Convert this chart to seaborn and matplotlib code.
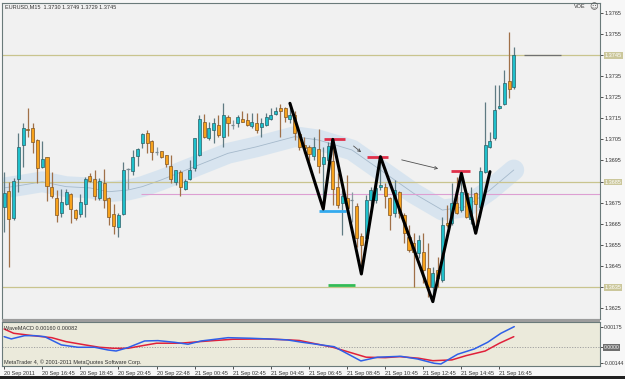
import matplotlib
matplotlib.use("Agg")
import matplotlib.pyplot as plt
from matplotlib.patches import Rectangle
import numpy as np
import pandas as pd
import seaborn as sns

# ---------------- data (EURUSD M15, bar index 0 = 20 Sep 2011 14:45) ----------------
opens = [1.36731, 1.36805, 1.36679, 1.36862, 1.37023, 1.37097, 1.37103, 1.37047, 1.36921, 1.36965,
         1.36823, 1.36774, 1.36703, 1.36742, 1.36791, 1.36715, 1.36695, 1.36742, 1.36876, 1.36862,
         1.36774, 1.36842, 1.36774, 1.36695, 1.36633, 1.36695, 1.36911, 1.36902, 1.36973, 1.37034,
         1.37080, 1.37044, 1.36989, 1.36995, 1.36976, 1.36924, 1.36849, 1.36894, 1.36813, 1.36861,
         1.36913, 1.36976, 1.37134, 1.37055, 1.37095, 1.37118, 1.37063, 1.37155, 1.37120, 1.37126,
         1.37145, 1.37142, 1.37113, 1.37129, 1.37107, 1.37118, 1.37145, 1.37170, 1.37197, 1.37197,
         1.37145, 1.37166, 1.37076, 1.37023, 1.37013, 1.36971, 1.37003, 1.36933, 1.36952, 1.36949,
         1.36823, 1.36750, 1.36771, 1.36765, 1.36734, 1.36592, 1.36581, 1.36763, 1.36763, 1.36824,
         1.36826, 1.36771, 1.36700, 1.36802, 1.36692, 1.36589, 1.36557, 1.36510, 1.36515, 1.36439,
         1.36352, 1.36431, 1.36384, 1.36652, 1.36652, 1.36750, 1.36715, 1.36794, 1.36671, 1.36794,
         1.36731, 1.36897, 1.37013, 1.37055, 1.37197, 1.37218, 1.37327, 1.37300]
highs = [1.36897, 1.36849, 1.36866, 1.37079, 1.37126, 1.37197, 1.37126, 1.37050, 1.37044, 1.36968,
         1.36897, 1.36810, 1.36813, 1.36813, 1.36794, 1.36719, 1.36791, 1.36870, 1.36889, 1.36905,
         1.36868, 1.36910, 1.36777, 1.36742, 1.36700, 1.36944, 1.36916, 1.37000, 1.37008, 1.37082,
         1.37095, 1.37047, 1.37015, 1.36997, 1.36978, 1.36976, 1.36907, 1.36905, 1.36861, 1.36952,
         1.37058, 1.37166, 1.37170, 1.37134, 1.37150, 1.37166, 1.37224, 1.37166, 1.37142, 1.37166,
         1.37186, 1.37175, 1.37174, 1.37174, 1.37150, 1.37177, 1.37197, 1.37205, 1.37218, 1.37205,
         1.37221, 1.37186, 1.37079, 1.37063, 1.37023, 1.37063, 1.37098, 1.37015, 1.37038, 1.37050,
         1.36889, 1.36810, 1.36881, 1.36802, 1.36747, 1.36605, 1.36786, 1.36826, 1.36834, 1.36968,
         1.36842, 1.36778, 1.36858, 1.36805, 1.36700, 1.36644, 1.36605, 1.36597, 1.36605, 1.36557,
         1.36447, 1.36494, 1.36684, 1.36739, 1.36842, 1.36873, 1.36889, 1.36797, 1.36826, 1.36802,
         1.36921, 1.37229, 1.37086, 1.37308, 1.37308, 1.37379, 1.37560, 1.37490]
lows = [1.36612, 1.36447, 1.36668, 1.36802, 1.36921, 1.37063, 1.36984, 1.36842, 1.36913, 1.36759,
        1.36771, 1.36660, 1.36684, 1.36739, 1.36652, 1.36668, 1.36684, 1.36681, 1.36849, 1.36763,
        1.36763, 1.36723, 1.36644, 1.36602, 1.36589, 1.36692, 1.36813, 1.36881, 1.36924, 1.37008,
        1.36987, 1.36952, 1.36976, 1.36963, 1.36921, 1.36842, 1.36834, 1.36782, 1.36810, 1.36858,
        1.36902, 1.36971, 1.37055, 1.37047, 1.37034, 1.37063, 1.37013, 1.37066, 1.37098, 1.37107,
        1.37131, 1.37113, 1.37103, 1.37082, 1.37063, 1.37113, 1.37142, 1.37166, 1.37063, 1.37134,
        1.37126, 1.37047, 1.37000, 1.36984, 1.36949, 1.36952, 1.36892, 1.36720, 1.36924, 1.36739,
        1.36723, 1.36597, 1.36715, 1.36660, 1.36541, 1.36412, 1.36573, 1.36739, 1.36748, 1.36810,
        1.36723, 1.36621, 1.36684, 1.36676, 1.36560, 1.36516, 1.36352, 1.36486, 1.36368, 1.36304,
        1.36281, 1.36352, 1.36375, 1.36636, 1.36644, 1.36698, 1.36707, 1.36676, 1.36649, 1.36605,
        1.36684, 1.36889, 1.37008, 1.37047, 1.37193, 1.37213, 1.37245, 1.37290]
closes = [1.36794, 1.36671, 1.36853, 1.37013, 1.37103, 1.37093, 1.37036, 1.36913, 1.36956, 1.36830,
          1.36782, 1.36692, 1.36752, 1.36802, 1.36721, 1.36679, 1.36752, 1.36862, 1.36853, 1.36783,
          1.36853, 1.36763, 1.36681, 1.36641, 1.36692, 1.36905, 1.36914, 1.36965, 1.37003, 1.37076,
          1.37034, 1.36992, 1.36986, 1.36965, 1.36933, 1.36861, 1.36905, 1.36823, 1.36854, 1.36905,
          1.37055, 1.37145, 1.37063, 1.37103, 1.37126, 1.37071, 1.37166, 1.37126, 1.37123, 1.37155,
          1.37134, 1.37118, 1.37134, 1.37095, 1.37129, 1.37155, 1.37166, 1.37186, 1.37186, 1.37155,
          1.37166, 1.37082, 1.37013, 1.37008, 1.36981, 1.37013, 1.36924, 1.36965, 1.37019, 1.36813,
          1.36739, 1.36782, 1.36723, 1.36762, 1.36581, 1.36549, 1.36763, 1.36810, 1.36818, 1.36834,
          1.36782, 1.36692, 1.36810, 1.36700, 1.36608, 1.36526, 1.36518, 1.36573, 1.36431, 1.36352,
          1.36415, 1.36392, 1.36644, 1.36644, 1.36750, 1.36700, 1.36802, 1.36684, 1.36778, 1.36742,
          1.36902, 1.37023, 1.37044, 1.37189, 1.37208, 1.37316, 1.37289, 1.37450]

# smoothed band indicator (centre values)
band_bars = [0, 4, 8, 13, 18, 22, 26, 29, 33, 40, 47, 53, 61, 66, 73, 79, 86, 92, 97, 102, 107]
band_vals = [1.36820, 1.36834, 1.36849, 1.36826, 1.36820, 1.36802, 1.36810, 1.36826, 1.36858, 1.36921,
             1.36984, 1.37015, 1.37063, 1.37047, 1.37000, 1.36905, 1.36794, 1.36715, 1.36731, 1.36810,
             1.36905]

# zigzag wave
zz_bars = [60, 67, 69, 75, 79, 90, 96, 99, 102]
zz_prices = [1.37221, 1.36720, 1.37050, 1.36412, 1.36968, 1.36281, 1.36889, 1.36605, 1.36897]

# level marks (start bar, end bar, price, colour)
seg_start = [67.1, 76.2, 93.8, 66.2, 68.0]
seg_end = [71.5, 80.6, 97.8, 71.8, 73.6]
seg_price = [1.37050, 1.36968, 1.36902, 1.36711, 1.36360]
seg_color = ['#e0304a', '#e0304a', '#e0304a', '#33aaee', '#33bb55']

# arrows (from bar, from price, to bar, to price)
arrows = [(72.9, 1.37027, 75.4, 1.36981), (82.9, 1.36956, 91.7, 1.36908)]

# horizontal lines
olive_levels = [1.3745, 1.3685, 1.3635]
pink_level = 1.36791
pink_start = 28.8

# WaveMACD
macd_bars_red = [0, 2, 6, 10, 13, 17, 20, 23, 26, 29, 32, 37, 41, 48, 55, 60, 62, 69, 76, 80, 83, 87,
                 90, 94, 97, 101, 104, 107]
macd_red = [0.00157, 0.00119, 0.00098, 0.00080, 0.00045, 0.00016, -0.00005, -0.00014, -0.00014, 0.00009,
            0.00031, 0.00031, 0.00045, 0.00066, 0.00069, 0.00060, 0.00055, -0.00005, -0.00093, -0.00097,
            -0.00088, -0.00102, -0.00124, -0.00117, -0.00079, -0.00038, 0.00031, 0.00089]
macd_bars_blue = [0, 1.5, 4.3, 6.4, 8.5, 12, 15.5, 19, 21.8, 23.5, 26, 29.5, 32.3, 35.8, 38.6, 41.4, 44.9,
                  47, 51.8, 55.3, 59.5, 62.3, 69.3, 74.9, 78.4, 83.3, 86.8, 90.3, 91.7, 95.2, 98.7,
                  101.5, 104.3, 107.1]
macd_blue = [0.00089, 0.00069, 0.00098, 0.00098, 0.00089, 0.00016, -0.00005, -0.00005, -0.00029, -0.00038,
             -0.00008, 0.00051, 0.00054, 0.00039, 0.00022, 0.00051, 0.00069, 0.00080, 0.00075, 0.00069,
             0.00060, 0.00041, 0.00000, -0.00126, -0.00093, -0.00085, -0.00109, -0.00147, -0.00153,
             -0.00067, -0.00020, 0.00039, 0.00119, 0.00178]

price_ticks = [1.3765, 1.3755, 1.3745, 1.3735, 1.3725, 1.3715, 1.3705, 1.3695, 1.3685,
               1.3675, 1.3665, 1.3655, 1.3645, 1.3635, 1.3625]
price_hilite = ['1.3745', '1.3685', '1.3635']
macd_ticks = [0.00175, 0.0, -0.00144]
macd_tick_labels = ['0.00175', '0.0000', '-0.00144']
time_bars = [0, 8, 16, 24, 32, 40, 48, 56, 64, 72, 80, 88, 96, 104]
time_labels = ['20 Sep 2011', '20 Sep 16:45', '20 Sep 18:45', '20 Sep 20:45', '20 Sep 22:48',
               '21 Sep 00:45', '21 Sep 02:45', '21 Sep 04:45', '21 Sep 06:45', '21 Sep 08:45',
               '21 Sep 10:45', '21 Sep 12:45', '21 Sep 14:45', '21 Sep 16:45']

title_text = "EURUSD,M15  1.3730 1.3749 1.3729 1.3745"
macd_title = "WaveMACD 0.00160 0.00082"
copyright_text = "MetaTrader 4, \u00a9 2001-2011 MetaQuotes Software Corp."

# ---------------- drawing ----------------
sns.set_style("white")
plt.rcParams['font.family'] = ['Liberation Sans', 'DejaVu Sans']
FS = 4.0

W, H = 625, 379
fig = plt.figure(figsize=(W / 100, H / 100), dpi=100, facecolor='#f7f7f7')


def fx(px):
    return px / W


def fy(py):
    return 1 - py / H


ax = fig.add_axes([fx(2), fy(319), (600 - 2) / W, (319 - 3) / H])
ax2 = fig.add_axes([fx(2), fy(366), (600 - 2) / W, (366 - 322) / H])
fig.patches.append(Rectangle((fx(2), fy(322)), (600 - 2) / W, 3 / H, transform=fig.transFigure,
                             facecolor='#9c9c9c', edgecolor='none', zorder=0))
fig.patches.append(Rectangle((0, 0), 1, 3 / H, transform=fig.transFigure,
                             facecolor='#202020', edgecolor='none', zorder=0))

ax.set_facecolor('#f1f1f1')
ax2.set_facecolor('#ebeadb')

n = len(opens)
bars = np.arange(n)
o = np.array(opens); h = np.array(highs); l = np.array(lows); c = np.array(closes)
up = c > o + 0.00003
dn = c < o - 0.00003
dj = ~(up | dn)

# band
band_df = pd.DataFrame({'bar': band_bars, 'price': band_vals})
sns.lineplot(data=band_df, x='bar', y='price', ax=ax, color='#c4dbee', lw=15, alpha=0.55,
             sort=False, estimator=None, solid_capstyle='round', zorder=1)
sns.lineplot(data=band_df, x='bar', y='price', ax=ax, color='#a5b9cb', lw=0.6,
             sort=False, estimator=None, zorder=1.1)

# horizontal lines
for lv in olive_levels:
    ax.axhline(lv, color='#c9c48e', lw=0.9, zorder=1.5)
ax.hlines(pink_level, pink_start, 130, color='#dd9fd2', lw=0.8, zorder=1.5)
ax.hlines(1.3745, 109.1, 117.0, color='#707070', lw=0.9, zorder=1.6)

# candles
ax.vlines(bars[up], l[up], h[up], color='#5f7a82', lw=0.9, zorder=2)
ax.vlines(bars[dn], l[dn], h[dn], color='#a07048', lw=0.9, zorder=2)
ax.vlines(bars[dj], l[dj], h[dj], color='#8a9aa2', lw=0.9, zorder=2)
ax.bar(bars[up], c[up] - o[up], bottom=o[up], width=0.64, color='#1fc0cb',
       edgecolor='#2a5f66', linewidth=0.5, zorder=3)
ax.bar(bars[dn], o[dn] - c[dn], bottom=c[dn], width=0.64, color='#f7a21c',
       edgecolor='#7e5424', linewidth=0.5, zorder=3)
ax.hlines(o[dj], bars[dj] - 0.33, bars[dj] + 0.33, color='#7a8a92', lw=0.9, zorder=3)

# zigzag + marks + arrows
sns.lineplot(x=zz_bars, y=zz_prices, ax=ax, color='black', lw=2.2, sort=False, estimator=None, zorder=5)
for s, e, p, col in zip(seg_start, seg_end, seg_price, seg_color):
    ax.hlines(p, s, e, color=col, lw=2.0, zorder=4)
for x0, y0, x1, y1 in arrows:
    ax.annotate('', xy=(x1, y1), xytext=(x0, y0),
                arrowprops=dict(arrowstyle='->', color='#505050', lw=0.6, mutation_scale=5), zorder=4)

ax.set_xlim(-0.45, 125.1)
ax.set_ylim(1.361986, 1.376965)
ax.set_xlabel(''); ax.set_ylabel('')
ax.set_xticks([])
ax.yaxis.tick_right()
ax.set_yticks(price_ticks)
ax.set_yticklabels([f'{v:.4f}' for v in price_ticks])
ax.tick_params(axis='y', length=2.2, width=0.6, pad=1.2, labelsize=FS, colors='#333333', right=True)
for lab in ax.get_yticklabels():
    if lab.get_text() in price_hilite:
        lab.set_color('white')
        lab.set_bbox(dict(facecolor='#cbc79b', edgecolor='none', pad=0.6))
for sp in ax.spines.values():
    sp.set_color('#6a7a7a'); sp.set_linewidth(0.8)

# MACD panel
ax2.axhline(0, color='#a0a0a0', lw=0.7, ls=(0, (1.2, 1.5)), zorder=1)
sns.lineplot(x=macd_bars_red, y=macd_red, ax=ax2, color='#e0203a', lw=1.1, sort=False, estimator=None, zorder=2)
sns.lineplot(x=macd_bars_blue, y=macd_blue, ax=ax2, color='#2f5fe8', lw=1.1, sort=False, estimator=None, zorder=3)
ax2.set_xlim(-0.45, 125.1)
ax2.set_ylim(-0.00171, 0.00219)
ax2.set_xlabel(''); ax2.set_ylabel('')
ax2.yaxis.tick_right()
ax2.set_yticks(macd_ticks)
ax2.set_yticklabels(macd_tick_labels)
ax2.tick_params(axis='y', length=2.0, width=0.6, pad=0.8, labelsize=3.7, colors='#333333', right=True)
for lab in ax2.get_yticklabels():
    if lab.get_text() == '0.0000':
        lab.set_color('white')
        lab.set_bbox(dict(facecolor='#6e6e6e', edgecolor='none', pad=0.6))
ax2.set_xticks(time_bars)
ax2.set_xticklabels(time_labels)
ax2.tick_params(axis='x', length=2, width=0.6, pad=1.5, labelsize=FS, colors='#333333', bottom=True)
for lab in ax2.get_xticklabels():
    lab.set_horizontalalignment('left')
for sp in ax2.spines.values():
    sp.set_color('#6a7a7a'); sp.set_linewidth(0.8)

# texts
fig.text(fx(5), fy(7), title_text, fontsize=FS, color='#333333', va='center', ha='left')
fig.text(fx(574), fy(7), 'VOE', fontsize=FS, color='#333333', va='center', ha='left')
fig.text(fx(594), fy(7), '\u263a', fontsize=6, color='#555555', va='center', ha='center',
         family=['DejaVu Sans'])
fig.text(fx(4), fy(329), macd_title, fontsize=FS, color='#333333', va='center', ha='left')
fig.text(fx(4), fy(362), copyright_text, fontsize=FS, color='#333333', va='center', ha='left')

fig.savefig('out.png', dpi=100, facecolor=fig.get_facecolor())
